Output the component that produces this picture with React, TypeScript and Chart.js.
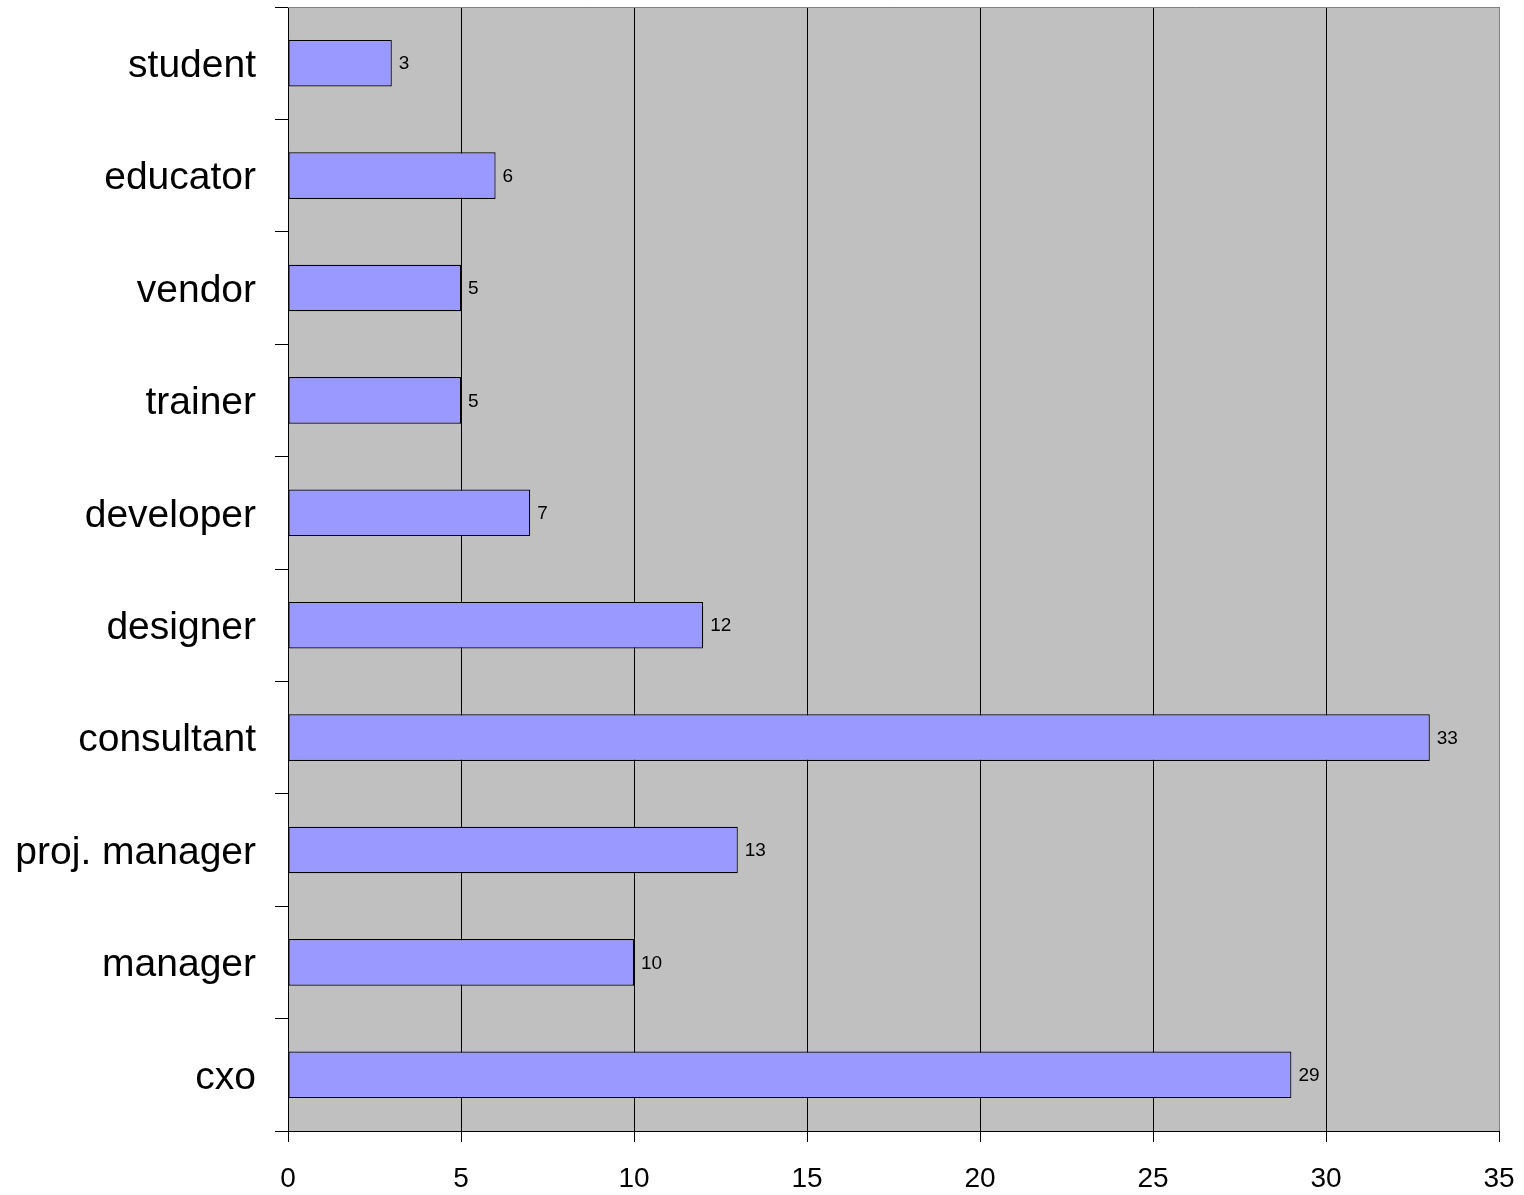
import React, { useEffect, useRef } from "react";
import { Chart, registerables } from "chart.js";

Chart.register(...registerables);

const categories = [
  "student",
  "educator",
  "vendor",
  "trainer",
  "developer",
  "designer",
  "consultant",
  "proj. manager",
  "manager",
  "cxo",
];
const counts = [3, 6, 5, 5, 7, 12, 33, 13, 10, 29];
const xTicks = [0, 5, 10, 15, 20, 25, 30, 35];

const FONT = "Arial, 'Liberation Sans', sans-serif";

const bgPlugin = {
  id: "plotBg",
  beforeDraw(chart: any) {
    const { ctx, chartArea } = chart;
    ctx.save();
    ctx.fillStyle = "#C0C0C0";
    ctx.fillRect(chartArea.left, chartArea.top, chartArea.right - chartArea.left, chartArea.bottom - chartArea.top);
    ctx.restore();
  },
  afterDraw(chart: any) {
    const { ctx, chartArea } = chart;
    ctx.save();
    ctx.strokeStyle = "#808080";
    ctx.lineWidth = 1;
    ctx.beginPath();
    ctx.moveTo(chartArea.left, chartArea.top + 0.5);
    ctx.lineTo(chartArea.right + 0.5, chartArea.top + 0.5);
    ctx.lineTo(chartArea.right + 0.5, chartArea.bottom);
    ctx.stroke();
    ctx.restore();
  },
};

const labelPlugin = {
  id: "valueLabels",
  afterDatasetsDraw(chart: any) {
    const { ctx } = chart;
    const meta = chart.getDatasetMeta(0);
    ctx.save();
    ctx.fillStyle = "#000";
    ctx.font = `19px ${FONT}`;
    ctx.textAlign = "left";
    ctx.textBaseline = "middle";
    meta.data.forEach((el: any, i: number) => {
      ctx.fillText(String(counts[i]), el.x + 7, el.y + 1);
    });
    ctx.restore();
  },
};

export default function App() {
  const ref = useRef<HTMLCanvasElement>(null);
  useEffect(() => {
    document.body.style.margin = "0";
    const chart = new Chart(ref.current!, {
      type: "bar",
      data: {
        labels: categories,
        datasets: [
          {
            data: counts,
            backgroundColor: "#9999FF",
            borderColor: "#000000",
            borderWidth: 1.2,
            borderSkipped: false,
            categoryPercentage: 1,
            barPercentage: 0.415,
          },
        ],
      },
      options: {
        indexAxis: "y",
        responsive: false,
        animation: false,
        layout: { padding: { top: 7, right: 25, left: 0, bottom: 0 } },
        plugins: { legend: { display: false }, tooltip: { enabled: false } },
        scales: {
          x: {
            type: "linear",
            min: 0,
            max: 35,
            afterBuildTicks(scale: any) {
              scale.ticks = xTicks.map((v) => ({ value: v }));
            },
            afterFit(scale: any) {
              scale.height = 64;
              scale.paddingLeft = 0;
              scale.paddingRight = 0;
            },
            grid: {
              color: (c: any) => (c.tick && c.tick.value === 35 ? "#808080" : "#000000"),
              tickColor: "#000000",
              tickLength: 11,
              lineWidth: 1,
            },
            border: { color: "#000000", width: 1 },
            ticks: {
              color: "#000",
              font: { family: FONT, size: 28 },
              padding: 20,
              maxRotation: 0,
            },
          },
          y: {
            type: "category",
            afterFit(scale: any) {
              scale.width = 288;
              scale.paddingTop = 0;
              scale.paddingBottom = 0;
            },
            grid: {
              offset: true,
              drawOnChartArea: false,
              tickColor: "#000000",
              tickLength: 13,
            },
            border: { color: "#000000", width: 1 },
            ticks: {
              color: "#000",
              font: { family: FONT, size: 39 },
              padding: 19,
              labelOffset: 3,
            },
          },
        },
      },
      plugins: [bgPlugin, labelPlugin],
    });
    return () => chart.destroy();
  }, []);
  return (
    <div style={{ width: 1524, height: 1195 }}>
      <canvas ref={ref} width={1524} height={1195} style={{ display: "block" }} />
    </div>
  );
}
